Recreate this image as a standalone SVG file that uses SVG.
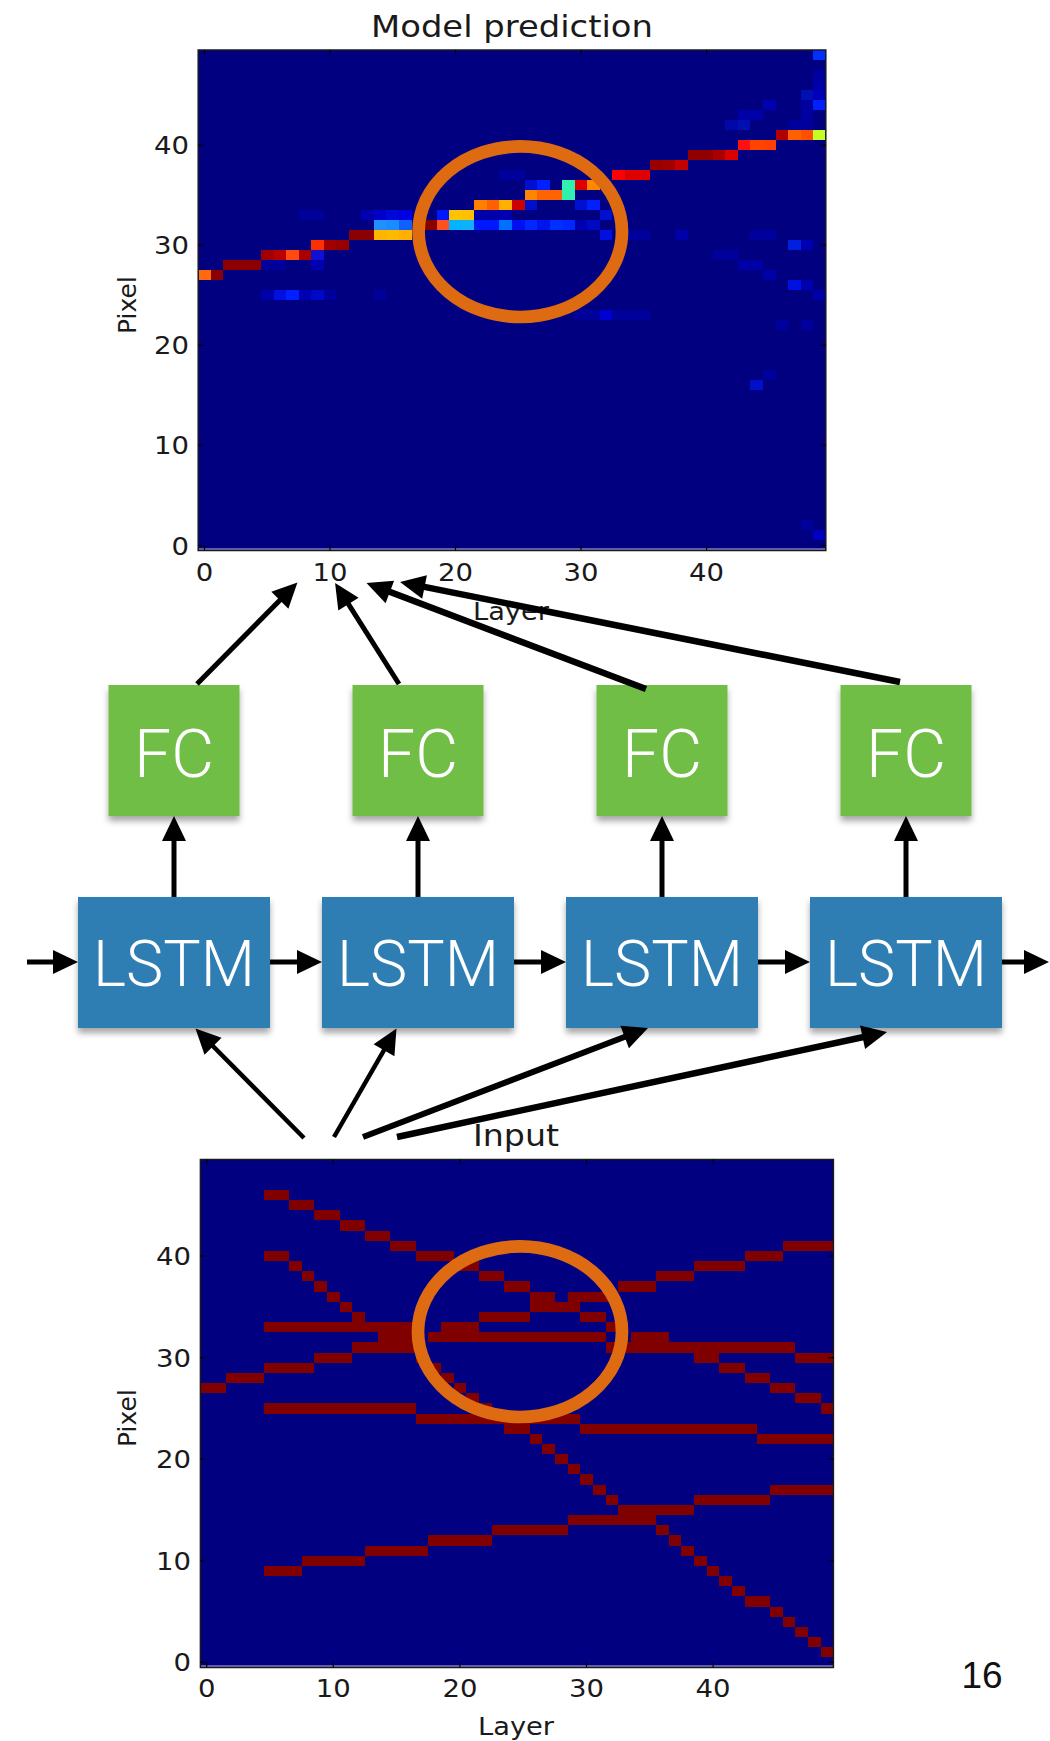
<svg xmlns="http://www.w3.org/2000/svg" width="1050" height="1741" viewBox="0 0 1050 1741">
<style>
.ax{font-family:"DejaVu Sans",sans-serif;fill:#1a1a1a}
.tk{font-size:25px}
.tx{text-anchor:middle}
.ty{text-anchor:end}
.ttl{font-size:30px;text-anchor:middle}
.lbl{font-size:25px;text-anchor:middle}
.frame{fill:none;stroke:#1a1a1a;stroke-width:1.5}
.tick{stroke:#000;stroke-width:1.2}
.ring{fill:none;stroke:#de6b12;stroke-width:12.7}
.fc rect{fill:#70be44}
.lstm rect{fill:#2f7db3}
.bl{font-family:Roboto,"Liberation Sans",sans-serif;font-weight:300;fill:#fff;text-anchor:middle}
.conn line{stroke:#000;fill:none;marker-end:url(#ah)}
.cells rect{shape-rendering:crispEdges}
.in rect{fill:#800000}
</style>
<defs>
<marker id="ah" markerUnits="userSpaceOnUse" markerWidth="26" markerHeight="26" refX="13" refY="12" orient="auto" overflow="visible"><path d="M0,0 L25,12 L0,24 Z" fill="#000"/></marker>
<filter id="sh" x="-15%" y="-15%" width="130%" height="135%"><feDropShadow dx="0" dy="5" stdDeviation="3" flood-color="#000" flood-opacity="0.35"/></filter>
</defs>
<rect width="1050" height="1741" fill="#fff"/>

<g id="plot-prediction">
<rect x="198.2" y="50" width="627.6" height="500.5" fill="#000080"/>
<g class="cells" transform="translate(198.2,550.5) scale(12.552,-10.01)">
<rect x="0" y="27" width="1" height="1" fill="#ff6a10"/>
<rect x="1" y="27" width="1" height="1" fill="#8b0000"/>
<rect x="2" y="28" width="3" height="1" fill="#8e0000"/>
<rect x="5" y="29" width="1" height="1" fill="#a00000"/>
<rect x="6" y="29" width="1" height="1" fill="#b80000"/>
<rect x="7" y="29" width="1" height="1" fill="#ff4a10"/>
<rect x="8" y="29" width="1" height="1" fill="#a80000"/>
<rect x="9" y="30" width="1" height="1" fill="#ff3000"/>
<rect x="10" y="30" width="1" height="1" fill="#a00000"/>
<rect x="11" y="30" width="1" height="1" fill="#980000"/>
<rect x="12" y="31" width="2" height="1" fill="#8b0000"/>
<rect x="14" y="31" width="1" height="1" fill="#ffb400"/>
<rect x="15" y="31" width="1" height="1" fill="#ffba00"/>
<rect x="16" y="31" width="1" height="1" fill="#ffb000"/>
<rect x="14" y="32" width="1" height="1" fill="#2090ff"/>
<rect x="15" y="32" width="1" height="1" fill="#1a8cff"/>
<rect x="16" y="32" width="1" height="1" fill="#1060ff"/>
<rect x="18" y="32" width="1" height="1" fill="#880000"/>
<rect x="19" y="32" width="1" height="1" fill="#ff5020"/>
<rect x="20" y="32" width="1" height="1" fill="#00b4ff"/>
<rect x="21" y="32" width="1" height="1" fill="#10b0ff"/>
<rect x="22" y="32" width="2" height="1" fill="#0018ff"/>
<rect x="24" y="32" width="1" height="1" fill="#0070ff"/>
<rect x="25" y="32" width="1" height="1" fill="#0010f0"/>
<rect x="26" y="32" width="1" height="1" fill="#0028ff"/>
<rect x="27" y="32" width="1" height="1" fill="#0014f0"/>
<rect x="28" y="32" width="1" height="1" fill="#0030ff"/>
<rect x="29" y="32" width="1" height="1" fill="#0028ff"/>
<rect x="30" y="32" width="1" height="1" fill="#0000b0"/>
<rect x="31" y="32" width="1" height="1" fill="#0008c0"/>
<rect x="8" y="33" width="2" height="1" fill="#00009a"/>
<rect x="13" y="33" width="1" height="1" fill="#0000b0"/>
<rect x="14" y="33" width="1" height="1" fill="#0000c8"/>
<rect x="15" y="33" width="1" height="1" fill="#0008d8"/>
<rect x="16" y="33" width="1" height="1" fill="#0000e0"/>
<rect x="19" y="33" width="1" height="1" fill="#0018ff"/>
<rect x="20" y="33" width="1" height="1" fill="#ffc400"/>
<rect x="21" y="33" width="1" height="1" fill="#ffc000"/>
<rect x="22" y="33" width="2" height="1" fill="#0000a8"/>
<rect x="24" y="33" width="1" height="1" fill="#0000b0"/>
<rect x="32" y="33" width="1" height="1" fill="#0010d0"/>
<rect x="22" y="34" width="1" height="1" fill="#ff8000"/>
<rect x="23" y="34" width="1" height="1" fill="#ff6000"/>
<rect x="24" y="34" width="1" height="1" fill="#ffb000"/>
<rect x="25" y="34" width="1" height="1" fill="#cc0000"/>
<rect x="26" y="34" width="1" height="1" fill="#0010c8"/>
<rect x="30" y="34" width="1" height="1" fill="#0010d0"/>
<rect x="31" y="34" width="1" height="1" fill="#0020ff"/>
<rect x="26" y="35" width="1" height="1" fill="#ff8400"/>
<rect x="27" y="35" width="2" height="1" fill="#ff6400"/>
<rect x="29" y="35" width="1" height="2" fill="#30f0b0"/>
<rect x="26" y="36" width="1" height="1" fill="#0010d0"/>
<rect x="27" y="36" width="1" height="1" fill="#0020ff"/>
<rect x="30" y="36" width="1" height="1" fill="#dd0000"/>
<rect x="31" y="36" width="1" height="1" fill="#ff8800"/>
<rect x="24" y="37" width="2" height="1" fill="#00009c"/>
<rect x="33" y="37" width="1" height="1" fill="#ff0000"/>
<rect x="34" y="37" width="1" height="1" fill="#dd0000"/>
<rect x="35" y="37" width="1" height="1" fill="#e00000"/>
<rect x="36" y="38" width="1" height="1" fill="#9a0000"/>
<rect x="37" y="38" width="1" height="1" fill="#a00000"/>
<rect x="38" y="38" width="1" height="1" fill="#c40000"/>
<rect x="39" y="39" width="2" height="1" fill="#900000"/>
<rect x="41" y="39" width="1" height="1" fill="#a80000"/>
<rect x="42" y="39" width="1" height="1" fill="#dd0000"/>
<rect x="43" y="40" width="1" height="1" fill="#ff1010"/>
<rect x="44" y="40" width="1" height="1" fill="#ff4400"/>
<rect x="45" y="40" width="1" height="1" fill="#ff4000"/>
<rect x="46" y="41" width="1" height="1" fill="#b00000"/>
<rect x="47" y="41" width="1" height="1" fill="#ff6000"/>
<rect x="48" y="41" width="1" height="1" fill="#ff5000"/>
<rect x="49" y="41" width="1" height="1" fill="#c4ff24"/>
<rect x="42" y="42" width="1" height="1" fill="#0008a8"/>
<rect x="43" y="42" width="1" height="1" fill="#0010b0"/>
<rect x="47" y="42" width="2" height="1" fill="#00009c"/>
<rect x="43" y="43" width="2" height="1" fill="#0000a8"/>
<rect x="48" y="43" width="1" height="1" fill="#0000a0"/>
<rect x="45" y="44" width="1" height="1" fill="#0000b0"/>
<rect x="48" y="44" width="1" height="1" fill="#0000a0"/>
<rect x="49" y="44" width="1" height="1" fill="#0020ff"/>
<rect x="48" y="45" width="1" height="1" fill="#0010b0"/>
<rect x="49" y="45" width="1" height="1" fill="#0000b8"/>
<rect x="49" y="46" width="1" height="1" fill="#0000a8"/>
<rect x="49" y="47" width="1" height="1" fill="#0000a0"/>
<rect x="49" y="49" width="1" height="1" fill="#0030ff"/>
<rect x="32" y="31" width="1" height="1" fill="#0010e0"/>
<rect x="34" y="31" width="2" height="1" fill="#00009c"/>
<rect x="38" y="31" width="1" height="1" fill="#0000a8"/>
<rect x="44" y="31" width="2" height="1" fill="#00009c"/>
<rect x="47" y="30" width="1" height="1" fill="#0020e0"/>
<rect x="48" y="30" width="1" height="1" fill="#0000b0"/>
<rect x="9" y="29" width="1" height="1" fill="#1010d0"/>
<rect x="41" y="29" width="2" height="1" fill="#00009a"/>
<rect x="9" y="28" width="1" height="1" fill="#0000b0"/>
<rect x="5" y="28" width="2" height="1" fill="#00009a"/>
<rect x="43" y="28" width="2" height="1" fill="#0000a8"/>
<rect x="45" y="27" width="1" height="1" fill="#0000a8"/>
<rect x="47" y="26" width="1" height="1" fill="#0010e0"/>
<rect x="48" y="26" width="1" height="1" fill="#0000b0"/>
<rect x="5" y="25" width="1" height="1" fill="#0000a8"/>
<rect x="6" y="25" width="1" height="1" fill="#0010e0"/>
<rect x="7" y="25" width="1" height="1" fill="#0020ff"/>
<rect x="8" y="25" width="1" height="1" fill="#0000b0"/>
<rect x="9" y="25" width="1" height="1" fill="#0008c8"/>
<rect x="10" y="25" width="1" height="1" fill="#00009c"/>
<rect x="14" y="25" width="1" height="1" fill="#00009a"/>
<rect x="49" y="25" width="1" height="1" fill="#0000a8"/>
<rect x="30" y="23" width="2" height="1" fill="#00009a"/>
<rect x="32" y="23" width="1" height="1" fill="#0000d0"/>
<rect x="33" y="23" width="3" height="1" fill="#00009a"/>
<rect x="46" y="22" width="1" height="1" fill="#00009c"/>
<rect x="48" y="22" width="1" height="1" fill="#00009c"/>
<rect x="45" y="17" width="1" height="1" fill="#00009c"/>
<rect x="44" y="16" width="1" height="1" fill="#0010c8"/>
<rect x="48" y="2" width="1" height="1" fill="#00009a"/>
<rect x="49" y="1" width="1" height="1" fill="#0000c0"/>
</g>
<line x1="198.2" y1="549.3" x2="825.8" y2="549.3" stroke="#7b7bc4" stroke-width="2"/>
<rect class="frame" x="198.2" y="50" width="627.6" height="500.5"/>
<g class="tick">
<path d="M204.5,50v5M330,50v5M455.5,50v5M581,50v5M706.6,50v5M204.5,550.5v-5M330,550.5v-5M455.5,550.5v-5M581,550.5v-5M706.6,550.5v-5"/>
<path d="M198.2,545.5h5M198.2,445.4h5M198.2,345.3h5M198.2,245.2h5M198.2,145.1h5M825.8,545.5h-5M825.8,445.4h-5M825.8,345.3h-5M825.8,245.2h-5M825.8,145.1h-5"/>
</g>
<text class="ax ttl" x="512" y="37" textLength="282" lengthAdjust="spacingAndGlyphs">Model prediction</text>
<text class="ax tk tx" x="204.5" y="581" textLength="17.5" lengthAdjust="spacingAndGlyphs">0</text>
<text class="ax tk tx" x="330" y="581" textLength="35" lengthAdjust="spacingAndGlyphs">10</text>
<text class="ax tk tx" x="455.5" y="581" textLength="35" lengthAdjust="spacingAndGlyphs">20</text>
<text class="ax tk tx" x="581" y="581" textLength="35" lengthAdjust="spacingAndGlyphs">30</text>
<text class="ax tk tx" x="706.6" y="581" textLength="35" lengthAdjust="spacingAndGlyphs">40</text>
<text class="ax tk ty" x="189" y="554.5" textLength="17.5" lengthAdjust="spacingAndGlyphs">0</text>
<text class="ax tk ty" x="189" y="454.4" textLength="35" lengthAdjust="spacingAndGlyphs">10</text>
<text class="ax tk ty" x="189" y="354.3" textLength="35" lengthAdjust="spacingAndGlyphs">20</text>
<text class="ax tk ty" x="189" y="254.2" textLength="35" lengthAdjust="spacingAndGlyphs">30</text>
<text class="ax tk ty" x="189" y="154.1" textLength="35" lengthAdjust="spacingAndGlyphs">40</text>
<text class="ax lbl" x="511" y="620" textLength="76" lengthAdjust="spacingAndGlyphs">Layer</text>
<text class="ax lbl" transform="translate(136,305) rotate(-90)">Pixel</text>
<ellipse class="ring" cx="520.3" cy="231.7" rx="101.7" ry="85.3"/>
</g>

<g id="plot-input">
<rect x="200.4" y="1159.5" width="633" height="508" fill="#000080"/>
<g class="cells in" transform="translate(200.4,1667.5) scale(12.66,-10.16)">
<rect x="5" y="46" width="2" height="1"/>
<rect x="7" y="45" width="2" height="1"/>
<rect x="9" y="44" width="2" height="1"/>
<rect x="11" y="43" width="2" height="1"/>
<rect x="13" y="42" width="2" height="1"/>
<rect x="15" y="41" width="2" height="1"/><rect x="46" y="41" width="4" height="1"/>
<rect x="5" y="40" width="2" height="1"/><rect x="17" y="40" width="3" height="1"/><rect x="43" y="40" width="3" height="1"/>
<rect x="7" y="39" width="1" height="1"/><rect x="20" y="39" width="2" height="1"/><rect x="39" y="39" width="4" height="1"/>
<rect x="8" y="38" width="1" height="1"/><rect x="22" y="38" width="2" height="1"/><rect x="36" y="38" width="3" height="1"/>
<rect x="9" y="37" width="1" height="1"/><rect x="24" y="37" width="2" height="1"/><rect x="33" y="37" width="3" height="1"/>
<rect x="10" y="36" width="1" height="1"/><rect x="26" y="36" width="2" height="1"/><rect x="29" y="36" width="4" height="1"/>
<rect x="11" y="35" width="1" height="1"/><rect x="26" y="35" width="4" height="1"/>
<rect x="12" y="34" width="1" height="1"/><rect x="22" y="34" width="4" height="1"/><rect x="30" y="34" width="2" height="1"/>
<rect x="5" y="33" width="12" height="1"/><rect x="19" y="33" width="3" height="1"/><rect x="32" y="33" width="1" height="1"/>
<rect x="14" y="32" width="3" height="1"/><rect x="18" y="32" width="14" height="1"/><rect x="34" y="32" width="3" height="1"/>
<rect x="12" y="31" width="5" height="1"/><rect x="32" y="31" width="15" height="1"/>
<rect x="9" y="30" width="3" height="1"/><rect x="17" y="30" width="1" height="1"/><rect x="39" y="30" width="2" height="1"/><rect x="47" y="30" width="3" height="1"/>
<rect x="5" y="29" width="4" height="1"/><rect x="18" y="29" width="1" height="1"/><rect x="41" y="29" width="2" height="1"/>
<rect x="2" y="28" width="3" height="1"/><rect x="19" y="28" width="1" height="1"/><rect x="43" y="28" width="2" height="1"/>
<rect x="0" y="27" width="2" height="1"/><rect x="20" y="27" width="1" height="1"/><rect x="45" y="27" width="2" height="1"/>
<rect x="21" y="26" width="1" height="1"/><rect x="47" y="26" width="2" height="1"/>
<rect x="5" y="25" width="12" height="1"/><rect x="22" y="25" width="1" height="1"/><rect x="49" y="25" width="1" height="1"/>
<rect x="17" y="24" width="13" height="1"/>
<rect x="24" y="23" width="2" height="1"/><rect x="30" y="23" width="14" height="1"/>
<rect x="26" y="22" width="1" height="1"/><rect x="44" y="22" width="6" height="1"/>
<rect x="27" y="21" width="1" height="1"/>
<rect x="28" y="20" width="1" height="1"/>
<rect x="29" y="19" width="1" height="1"/>
<rect x="30" y="18" width="1" height="1"/>
<rect x="31" y="17" width="1" height="1"/><rect x="45" y="17" width="5" height="1"/>
<rect x="32" y="16" width="1" height="1"/><rect x="39" y="16" width="6" height="1"/>
<rect x="33" y="15" width="6" height="1"/>
<rect x="29" y="14" width="7" height="1"/>
<rect x="23" y="13" width="6" height="1"/><rect x="36" y="13" width="1" height="1"/>
<rect x="18" y="12" width="5" height="1"/><rect x="37" y="12" width="1" height="1"/>
<rect x="13" y="11" width="5" height="1"/><rect x="38" y="11" width="1" height="1"/>
<rect x="8" y="10" width="5" height="1"/><rect x="39" y="10" width="1" height="1"/>
<rect x="5" y="9" width="3" height="1"/><rect x="40" y="9" width="1" height="1"/>
<rect x="41" y="8" width="1" height="1"/>
<rect x="42" y="7" width="1" height="1"/>
<rect x="43" y="6" width="2" height="1"/>
<rect x="45" y="5" width="1" height="1"/>
<rect x="46" y="4" width="1" height="1"/>
<rect x="47" y="3" width="1" height="1"/>
<rect x="48" y="2" width="1" height="1"/>
<rect x="49" y="1" width="1" height="1"/>
</g>
<line x1="200.4" y1="1666.3" x2="833.4" y2="1666.3" stroke="#7b7bc4" stroke-width="2"/>
<rect class="frame" x="200.4" y="1159.5" width="633" height="508"/>
<g class="tick">
<path d="M206.7,1159.5v5M333.3,1159.5v5M459.9,1159.5v5M586.5,1159.5v5M713.1,1159.5v5M206.7,1667.5v-5M333.3,1667.5v-5M459.9,1667.5v-5M586.5,1667.5v-5M713.1,1667.5v-5"/>
<path d="M200.4,1662.4h5M200.4,1560.8h5M200.4,1459.2h5M200.4,1357.6h5M200.4,1256h5M833.4,1662.4h-5M833.4,1560.8h-5M833.4,1459.2h-5M833.4,1357.6h-5M833.4,1256h-5"/>
</g>
<text class="ax ttl" x="516" y="1146" textLength="86" lengthAdjust="spacingAndGlyphs">Input</text>
<text class="ax tk tx" x="206.7" y="1697" textLength="17.5" lengthAdjust="spacingAndGlyphs">0</text>
<text class="ax tk tx" x="333.3" y="1697" textLength="35" lengthAdjust="spacingAndGlyphs">10</text>
<text class="ax tk tx" x="459.9" y="1697" textLength="35" lengthAdjust="spacingAndGlyphs">20</text>
<text class="ax tk tx" x="586.5" y="1697" textLength="35" lengthAdjust="spacingAndGlyphs">30</text>
<text class="ax tk tx" x="713.1" y="1697" textLength="35" lengthAdjust="spacingAndGlyphs">40</text>
<text class="ax tk ty" x="191" y="1671.4" textLength="17.5" lengthAdjust="spacingAndGlyphs">0</text>
<text class="ax tk ty" x="191" y="1569.8" textLength="35" lengthAdjust="spacingAndGlyphs">10</text>
<text class="ax tk ty" x="191" y="1468.2" textLength="35" lengthAdjust="spacingAndGlyphs">20</text>
<text class="ax tk ty" x="191" y="1366.6" textLength="35" lengthAdjust="spacingAndGlyphs">30</text>
<text class="ax tk ty" x="191" y="1265" textLength="35" lengthAdjust="spacingAndGlyphs">40</text>
<text class="ax lbl" x="516" y="1735" textLength="76" lengthAdjust="spacingAndGlyphs">Layer</text>
<text class="ax lbl" transform="translate(136,1418) rotate(-90)">Pixel</text>
<ellipse class="ring" cx="520" cy="1331.7" rx="102" ry="85.3"/>
</g>

<g id="fc1" class="fc"><rect x="108.5" y="685" width="131" height="131" filter="url(#sh)"/><text class="bl" x="174" y="777" font-size="67" textLength="80" lengthAdjust="spacingAndGlyphs">FC</text></g>
<g id="fc2" class="fc"><rect x="352.5" y="685" width="131" height="131" filter="url(#sh)"/><text class="bl" x="418" y="777" font-size="67" textLength="80" lengthAdjust="spacingAndGlyphs">FC</text></g>
<g id="fc3" class="fc"><rect x="596.5" y="685" width="131" height="131" filter="url(#sh)"/><text class="bl" x="662" y="777" font-size="67" textLength="80" lengthAdjust="spacingAndGlyphs">FC</text></g>
<g id="fc4" class="fc"><rect x="840.5" y="685" width="131" height="131" filter="url(#sh)"/><text class="bl" x="906" y="777" font-size="67" textLength="80" lengthAdjust="spacingAndGlyphs">FC</text></g>

<g id="lstm1" class="lstm"><rect x="78" y="897" width="192" height="131" filter="url(#sh)"/><text class="bl" x="174" y="986" font-size="65" textLength="162" lengthAdjust="spacingAndGlyphs">LSTM</text></g>
<g id="lstm2" class="lstm"><rect x="322" y="897" width="192" height="131" filter="url(#sh)"/><text class="bl" x="418" y="986" font-size="65" textLength="162" lengthAdjust="spacingAndGlyphs">LSTM</text></g>
<g id="lstm3" class="lstm"><rect x="566" y="897" width="192" height="131" filter="url(#sh)"/><text class="bl" x="662" y="986" font-size="65" textLength="162" lengthAdjust="spacingAndGlyphs">LSTM</text></g>
<g id="lstm4" class="lstm"><rect x="810" y="897" width="192" height="131" filter="url(#sh)"/><text class="bl" x="906" y="986" font-size="65" textLength="162" lengthAdjust="spacingAndGlyphs">LSTM</text></g>

<g id="connectors" class="conn">
<line x1="197" y1="684" x2="289" y2="591" stroke-width="5"/>
<line x1="399" y1="684" x2="341.5" y2="593.1" stroke-width="5"/>
<line x1="646" y1="689" x2="377.7" y2="587.3" stroke-width="6.5"/>
<line x1="900" y1="682" x2="411.8" y2="584.4" stroke-width="6.5"/>
<line x1="174" y1="897" x2="174" y2="828" stroke-width="5"/>
<line x1="418" y1="897" x2="418" y2="828" stroke-width="5"/>
<line x1="662" y1="897" x2="662" y2="828" stroke-width="5"/>
<line x1="906" y1="897" x2="906" y2="828" stroke-width="5"/>
<line x1="27" y1="962" x2="66" y2="962" stroke-width="5"/>
<line x1="270" y1="962" x2="310" y2="962" stroke-width="5"/>
<line x1="514" y1="962" x2="554" y2="962" stroke-width="5"/>
<line x1="758" y1="962" x2="798" y2="962" stroke-width="5"/>
<line x1="1002" y1="962" x2="1037" y2="962" stroke-width="5"/>
<line x1="304" y1="1138" x2="203.9" y2="1037" stroke-width="4.5"/>
<line x1="334" y1="1137" x2="390.5" y2="1038.9" stroke-width="4.5"/>
<line x1="363" y1="1137" x2="636.8" y2="1032.3" stroke-width="6"/>
<line x1="397" y1="1137" x2="875.3" y2="1034.5" stroke-width="6.5"/>
</g>

<text id="page-number" x="982" y="1688" font-family="'Liberation Sans',Arial,sans-serif" font-size="37" text-anchor="middle" fill="#111">16</text>
</svg>
